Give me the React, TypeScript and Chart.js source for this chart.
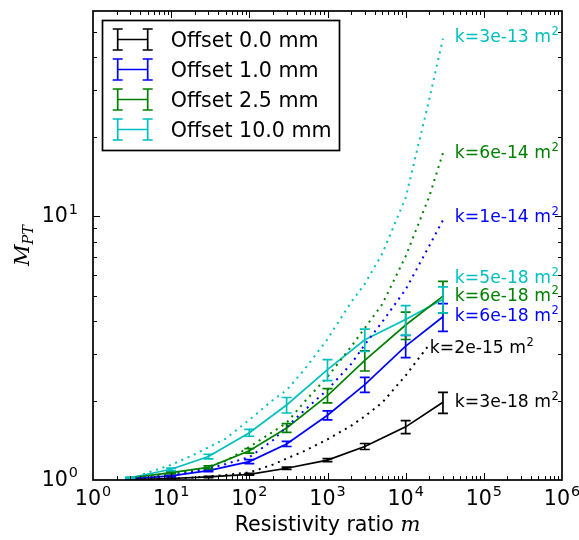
import React, { useEffect, useRef } from "react";
import { Chart, registerables } from "chart.js";

Chart.register(...registerables);

// ---------- data ----------
const mValues = [3, 10, 30, 100, 300, 1000, 3000, 10000, 30000];

const seriesNames = ["Offset 0.0 mm", "Offset 1.0 mm", "Offset 2.5 mm", "Offset 10.0 mm"];
const seriesColors = ["#000000", "#0000ff", "#008000", "#00bfbf"];

const mpt0 = [1.004, 1.013, 1.027, 1.051, 1.108, 1.19, 1.34, 1.59, 1.97];
const err0 = [0.002, 0.004, 0.006, 0.008, 0.01, 0.015, 0.035, 0.09, 0.18];
const mpt1 = [1.01, 1.036, 1.085, 1.174, 1.37, 1.76, 2.3, 3.22, 4.16];
const err1 = [0.003, 0.006, 0.01, 0.02, 0.03, 0.07, 0.15, 0.31, 0.5];
const mpt2 = [1.018, 1.066, 1.117, 1.29, 1.575, 2.09, 2.84, 3.87, 4.98];
const err2 = [0.004, 0.008, 0.015, 0.025, 0.06, 0.13, 0.25, 0.46, 0.68];
const mpt3 = [1.02, 1.098, 1.227, 1.51, 1.925, 2.62, 3.4, 4.06, 4.85];
const err3 = [0.005, 0.012, 0.025, 0.045, 0.13, 0.24, 0.33, 0.52, 0.55];

const modelM = [3, 5, 10, 20, 30, 50, 100, 200, 300, 500, 1000, 2000, 3000, 5000, 10000, 20000, 30000];
const model0 = [1.004, 1.009, 1.013, 1.022, 1.031, 1.045, 1.068, 1.144, 1.206, 1.286, 1.426, 1.605, 1.745, 1.963, 2.49, 3.26];
const model1 = [1.009, 1.02, 1.04, 1.075, 1.105, 1.15, 1.22, 1.414, 1.59, 1.83, 2.2, 2.75, 3.26, 3.97, 5.28, 7.71, 9.66];
const model2 = [1.013, 1.027, 1.051, 1.091, 1.126, 1.181, 1.335, 1.522, 1.647, 1.97, 2.46, 3.2, 3.77, 4.63, 7.05, 11.86, 17.36];
const model3 = [1.01, 1.066, 1.141, 1.252, 1.33, 1.436, 1.69, 2.01, 2.19, 2.61, 3.42, 4.72, 5.54, 7.2, 11.75, 27.7, 47.1];

const annTexts = ["k=3e-13 m", "k=6e-14 m", "k=1e-14 m", "k=5e-18 m", "k=6e-18 m", "k=6e-18 m", "k=2e-15 m", "k=3e-18 m"];
const annM = [42600, 42600, 42600, 42600, 42600, 42600, 20400, 42600];
const annY = [48.3, 17.5, 10.0, 5.86, 5.05, 4.24, 3.18, 1.99];
const annColors = ["#00bfbf", "#008000", "#0000ff", "#00bfbf", "#008000", "#0000ff", "#000000", "#000000"];

const xMin = 1;
const xMax = 1e6;
const yMin = 1;
const yMax = 60;
const xMajorExps = [0, 1, 2, 3, 4, 5, 6];
const yMajorExps = [0, 1];

const xTitle = "Resistivity ratio ";
const xTitleMath = "m";
const yTitleMain = "M";
const yTitleSub = "PT";

// ---------- drawing helpers ----------
const FONT = '"DejaVu Sans", sans-serif';
const SERIF = '"DejaVu Serif", "Liberation Serif", serif';
const LW = 1.7;

const solidMeans = [mpt0, mpt1, mpt2, mpt3];
const solidErrs = [err0, err1, err2, err3];
const models = [model0, model1, model2, model3];

function drawPow(ctx: CanvasRenderingContext2D, exp: string, x: number, baseline: number, align: "center" | "right", size: number) {
  ctx.font = `${size}px ${FONT}`;
  const wBase = ctx.measureText("10").width;
  const supSize = size * 0.7;
  ctx.font = `${supSize}px ${FONT}`;
  const wExp = ctx.measureText(exp).width;
  const total = wBase + wExp + 1;
  const left = align === "center" ? x - total / 2 : x - total;
  ctx.textAlign = "left";
  ctx.textBaseline = "alphabetic";
  ctx.fillStyle = "#000";
  ctx.font = `${size}px ${FONT}`;
  ctx.fillText("10", left, baseline);
  ctx.font = `${supSize}px ${FONT}`;
  ctx.fillText(exp, left + wBase + 1, baseline - size * 0.42);
}

const decorPlugin = {
  id: "decor",
  afterDatasetsDraw(chart: any) {
    const ctx: CanvasRenderingContext2D = chart.ctx;
    const xs = chart.scales.x;
    const ys = chart.scales.y;
    const ca = chart.chartArea;
    ctx.save();

    // error bars
    ctx.beginPath();
    ctx.rect(ca.left, ca.top, ca.right - ca.left, ca.bottom - ca.top);
    ctx.clip();
    solidMeans.forEach((vals, i) => {
      ctx.strokeStyle = seriesColors[i];
      ctx.lineWidth = LW;
      vals.forEach((v, j) => {
        const e = solidErrs[i][j];
        const px = xs.getPixelForValue(mValues[j]);
        const p1 = ys.getPixelForValue(v - e);
        const p2 = ys.getPixelForValue(v + e);
        ctx.beginPath();
        ctx.moveTo(px, p1);
        ctx.lineTo(px, p2);
        ctx.moveTo(px - 5, p1);
        ctx.lineTo(px + 5, p1);
        ctx.moveTo(px - 5, p2);
        ctx.lineTo(px + 5, p2);
        ctx.stroke();
      });
    });
    ctx.restore();
    ctx.save();

    // frame
    ctx.strokeStyle = "#000";
    ctx.lineWidth = LW;
    ctx.strokeRect(ca.left, ca.top, ca.right - ca.left, ca.bottom - ca.top);

    // ticks
    ctx.lineWidth = 1;
    const majorLen = 7;
    const minorLen = 4;
    const xTick = (v: number, len: number) => {
      const px = Math.round(xs.getPixelForValue(v)) + 0.5;
      ctx.beginPath();
      ctx.moveTo(px, ca.bottom);
      ctx.lineTo(px, ca.bottom - len);
      ctx.moveTo(px, ca.top);
      ctx.lineTo(px, ca.top + len);
      ctx.stroke();
    };
    const yTick = (v: number, len: number) => {
      const py = Math.round(ys.getPixelForValue(v)) + 0.5;
      ctx.beginPath();
      ctx.moveTo(ca.left, py);
      ctx.lineTo(ca.left + len, py);
      ctx.moveTo(ca.right, py);
      ctx.lineTo(ca.right - len, py);
      ctx.stroke();
    };
    for (let d = 0; d < 6; d++) {
      for (let k = 2; k <= 9; k++) xTick(k * Math.pow(10, d), minorLen);
    }
    xMajorExps.forEach((e) => {
      if (e > 0 && e < 6) xTick(Math.pow(10, e), majorLen);
    });
    for (let d = 0; d < 2; d++) {
      for (let k = 2; k <= 9; k++) {
        const v = k * Math.pow(10, d);
        if (v < yMax) yTick(v, minorLen);
      }
    }
    yMajorExps.forEach((e) => {
      if (Math.pow(10, e) > yMin) yTick(Math.pow(10, e), majorLen);
    });

    // tick labels
    xMajorExps.forEach((e) => {
      drawPow(ctx, String(e), xs.getPixelForValue(Math.pow(10, e)), ca.bottom + 25, "center", 20.6);
    });
    yMajorExps.forEach((e) => {
      drawPow(ctx, String(e), ca.left - 15, ys.getPixelForValue(Math.pow(10, e)) + 6, "right", 20.6);
    });

    // x title
    ctx.fillStyle = "#000";
    ctx.textBaseline = "alphabetic";
    ctx.textAlign = "left";
    ctx.font = `20.6px ${FONT}`;
    const wT = ctx.measureText(xTitle).width;
    ctx.font = `italic 21px ${SERIF}`;
    const wM = ctx.measureText(xTitleMath).width;
    const cx = (ca.left + ca.right) / 2;
    const xl = cx - (wT + wM) / 2;
    ctx.font = `20.6px ${FONT}`;
    ctx.fillText(xTitle, xl, 531);
    ctx.font = `italic 21px ${SERIF}`;
    ctx.fillText(xTitleMath, xl + wT, 531);

    // y title
    ctx.save();
    ctx.translate(29, (ca.top + ca.bottom) / 2);
    ctx.rotate(-Math.PI / 2);
    ctx.font = `italic 21px ${SERIF}`;
    const wYM = ctx.measureText(yTitleMain).width;
    ctx.font = `italic 14.5px ${SERIF}`;
    const wYS = ctx.measureText(yTitleSub).width;
    const yl = -(wYM + wYS) / 2;
    ctx.font = `italic 21px ${SERIF}`;
    ctx.fillText(yTitleMain, yl, 0);
    ctx.font = `italic 14.5px ${SERIF}`;
    ctx.fillText(yTitleSub, yl + wYM, 4);
    ctx.restore();

    // annotations
    annTexts.forEach((t, i) => {
      const px = xs.getPixelForValue(annM[i]);
      const py = ys.getPixelForValue(annY[i]);
      ctx.fillStyle = annColors[i];
      ctx.font = `17.2px ${FONT}`;
      ctx.fillText(t, px, py + 6);
      const w = ctx.measureText(t).width;
      ctx.font = `11.5px ${FONT}`;
      ctx.fillText("2", px + w + 0.5, py - 1);
    });

    // legend
    const lx = 102.5;
    const ly = 20.5;
    const lw = 237;
    const lh = 130;
    ctx.fillStyle = "#fff";
    ctx.fillRect(lx, ly, lw, lh);
    ctx.strokeStyle = "#000";
    ctx.lineWidth = LW;
    ctx.strokeRect(lx, ly, lw, lh);
    seriesNames.forEach((name, i) => {
      const ry = ly + 19 + i * 30;
      const x1 = 117.7;
      const x2 = 147.7;
      ctx.strokeStyle = seriesColors[i];
      ctx.lineWidth = LW;
      ctx.beginPath();
      ctx.moveTo(x1, ry);
      ctx.lineTo(x2, ry);
      [x1, x2].forEach((xx) => {
        ctx.moveTo(xx, ry - 10.5);
        ctx.lineTo(xx, ry + 10.5);
        ctx.moveTo(xx - 5, ry - 10.5);
        ctx.lineTo(xx + 5, ry - 10.5);
        ctx.moveTo(xx - 5, ry + 10.5);
        ctx.lineTo(xx + 5, ry + 10.5);
      });
      ctx.stroke();
      ctx.fillStyle = "#000";
      ctx.font = `20.6px ${FONT}`;
      ctx.fillText(name, 170.7, ry + 7.5);
    });

    ctx.restore();
  },
};

export default function App() {
  const ref = useRef<HTMLCanvasElement | null>(null);
  useEffect(() => {
    document.body.style.margin = "0";
    const canvas = ref.current;
    if (!canvas) return;
    const datasets: any[] = [];
    models.forEach((vals, i) => {
      datasets.push({
        label: seriesNames[i] + " model",
        data: vals.map((v, j) => ({ x: modelM[j], y: v })),
        borderColor: seriesColors[i],
        backgroundColor: seriesColors[i],
        borderWidth: 2,
        borderDash: [2, 4.8],
        borderCapStyle: "butt",
        showLine: true,
        pointRadius: 0,
        tension: 0,
      });
    });
    solidMeans.forEach((vals, i) => {
      datasets.push({
        label: seriesNames[i],
        data: vals.map((v, j) => ({ x: mValues[j], y: v })),
        borderColor: seriesColors[i],
        backgroundColor: seriesColors[i],
        borderWidth: LW,
        showLine: true,
        pointRadius: 0,
        tension: 0,
      });
    });
    const chart = new Chart(canvas, {
      type: "scatter",
      data: { datasets },
      options: {
        animation: false,
        responsive: false,
        devicePixelRatio: 1,
        layout: { padding: { left: 93, top: 11, right: 17, bottom: 60 } },
        plugins: { legend: { display: false }, tooltip: { enabled: false }, title: { display: false } },
        scales: {
          x: { type: "logarithmic", min: xMin, max: xMax, display: false },
          y: { type: "logarithmic", min: yMin, max: yMax, display: false },
        },
      },
      plugins: [decorPlugin],
    });
    return () => chart.destroy();
  }, []);
  return (
    <div style={{ width: 579, height: 540 }}>
      <canvas ref={ref} width={579} height={540} style={{ display: "block" }} />
    </div>
  );
}
